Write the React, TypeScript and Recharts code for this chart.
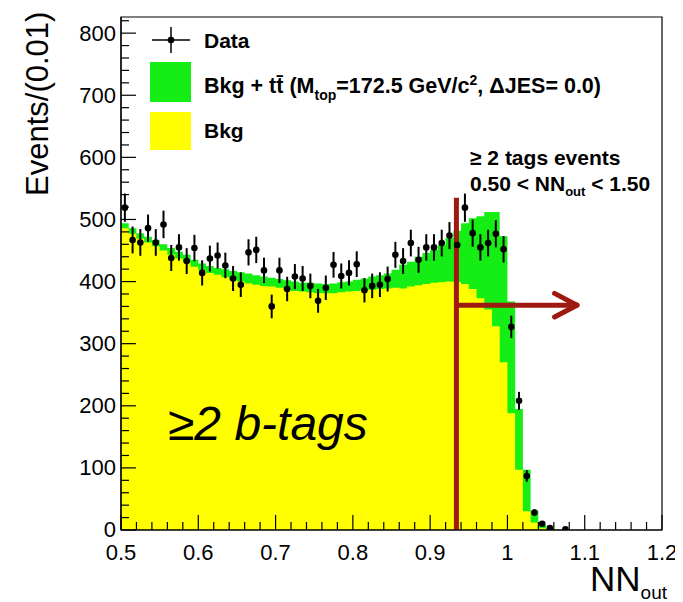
import React from 'react';
import {
  ComposedChart,
  Area,
  Scatter,
  ErrorBar,
  XAxis,
  YAxis,
  ReferenceLine,
  ReferenceArea,
} from 'recharts';

// ---------------- data ----------------
const BIN_START = 0.5;
const BIN_WIDTH = 0.01;
const NBINS = 70;

// Bkg + ttbar (stacked total) per bin, NN_out 0.50 .. 1.20
const totalCounts = [
  494, 486, 478, 472, 467, 460, 454, 448, 443, 435,
  429, 425, 422, 420, 417, 415, 413, 410, 408, 406,
  404, 402, 400, 398, 398, 397, 396, 397, 399, 400,
  403, 405, 408, 410, 413, 419, 427, 432, 440, 446,
  451, 459, 470, 482, 494, 502, 505, 512, 512, 473,
  368, 195, 97, 31, 8, 3, 1, 0, 0, 0,
  0, 0, 0, 0, 0, 0, 0, 0, 0, 0,
];

// Bkg only per bin
const bkgCounts = [
  486, 477, 469, 463, 457, 450, 443, 437, 431, 424,
  418, 414, 411, 407, 403, 400, 397, 395, 393, 392,
  390, 387, 385, 384, 383, 381, 381, 381, 383, 384,
  385, 386, 387, 388, 389, 390, 389, 392, 394, 396,
  398, 399, 400, 399, 396, 388, 373, 355, 328, 270,
  188, 97, 30, 12, 3, 1, 0, 0, 0, 0,
  0, 0, 0, 0, 0, 0, 0, 0, 0, 0,
];

// Observed data per bin
const dataCounts = [
  519, 467, 463, 486, 463, 492, 438, 455, 433, 454,
  414, 437, 442, 426, 405, 395, 447, 451, 418, 360,
  418, 388, 408, 405, 393, 369, 390, 427, 409, 414,
  428, 386, 393, 395, 404, 443, 433, 462, 435, 455,
  455, 462, 474, 459, 519, 478, 455, 462, 477, 452,
  327, 208, 87, 28, 10, 3, 0, 1, 0, 0,
  0, 0, 0, 0, 0, 0, 0, 0, 0, 0,
];

// Statistical error on data per bin
const dataErrors = [
  22.8, 21.6, 21.5, 22.0, 21.5, 22.2, 20.9, 21.3, 20.8, 21.3,
  20.3, 20.9, 21.0, 20.6, 20.1, 19.9, 21.1, 21.2, 20.4, 19.0,
  20.4, 19.7, 20.2, 20.1, 19.8, 19.2, 19.7, 20.7, 20.2, 20.3,
  20.7, 19.6, 19.8, 19.9, 20.1, 21.0, 20.8, 21.5, 20.9, 21.3,
  21.3, 21.5, 21.8, 21.4, 22.8, 21.9, 21.3, 21.5, 21.8, 21.3,
  18.1, 14.4, 9.3, 5.3, 3.2, 1.7, 0, 1.0, 0, 0,
  0, 0, 0, 0, 0, 0, 0, 0, 0, 0,
];

const xTicks = [
  0.5, 0.52, 0.54, 0.56, 0.58, 0.6, 0.62, 0.64, 0.66, 0.68,
  0.7, 0.72, 0.74, 0.76, 0.78, 0.8, 0.82, 0.84, 0.86, 0.88,
  0.9, 0.92, 0.94, 0.96, 0.98, 1.0, 1.02, 1.04, 1.06, 1.08,
  1.1, 1.12, 1.14, 1.16, 1.18, 1.2,
];
const yTicks = [
  0, 20, 40, 60, 80, 100, 120, 140, 160, 180,
  200, 220, 240, 260, 280, 300, 320, 340, 360, 380,
  400, 420, 440, 460, 480, 500, 520, 540, 560, 580,
  600, 620, 640, 660, 680, 700, 720, 740, 760, 780,
  800, 820,
];

const X_DOMAIN: [number, number] = [0.5, 1.2];
const Y_DOMAIN: [number, number] = [0, 826];

// cut annotation
const CUT_X = 0.934;
const CUT_TOP = 535;
const ARROW_Y = 362;
const ARROW_END = 1.09;
const ARROW_BACK = 0.029;
const ARROW_SPREAD = 19;

// ---------------- derived tables ----------------
const round3 = (v: number) => Math.round(v * 1000) / 1000;

const histRows = Array.from({ length: NBINS + 1 }, (_, i) => ({
  x: round3(BIN_START + i * BIN_WIDTH),
  total: i < NBINS ? totalCounts[i] : 0,
  bkg: i < NBINS ? bkgCounts[i] : 0,
}));

const pointRows = dataCounts
  .map((v, i) => ({ x: round3(BIN_START + (i + 0.5) * BIN_WIDTH), y: v, err: dataErrors[i] }))
  .filter((r) => r.y > 0);

// ---------------- styling ----------------
const GREEN = '#14ee14';
const YELLOW = '#ffff00';
const RED = '#9e1a10';
const FONT = '"Liberation Sans", Arial, Helvetica, sans-serif';

const TICK_MARGIN = 6;
const isMajorX = (v: number) => Math.abs(v * 10 - Math.round(v * 10)) < 1e-6;
const isMajorY = (v: number) => v % 100 === 0;

const XTick = (props: any) => {
  const { x, y, payload } = props;
  const v = payload.value as number;
  const major = isMajorX(v);
  const axisY = y - TICK_MARGIN;
  const len = major ? 15 : 8;
  return (
    <g>
      <line x1={x} x2={x} y1={axisY} y2={axisY - len} stroke="#000" strokeWidth={1.2} />
      {major && (
        <text x={x} y={axisY + 30} textAnchor="middle" fontFamily={FONT} fontSize={22} fill="#000">
          {String(Math.round(v * 10) / 10)}
        </text>
      )}
    </g>
  );
};

const YTick = (props: any) => {
  const { x, y, payload } = props;
  const v = payload.value as number;
  const major = isMajorY(v);
  const axisX = x + TICK_MARGIN;
  const len = major ? 15 : 8;
  return (
    <g>
      <line x1={axisX} x2={axisX + len} y1={y} y2={y} stroke="#000" strokeWidth={1.2} />
      {major && (
        <text x={axisX - 5} y={y} dy="0.34em" textAnchor="end" fontFamily={FONT} fontSize={22} fill="#000">
          {String(v)}
        </text>
      )}
    </g>
  );
};

const Dot = (p: any) => <circle cx={p.cx} cy={p.cy} r={3.3} fill="#000" />;

export default function App() {
  const W = 675;
  const H = 594;
  return (
    <div style={{ position: 'relative', width: W, height: H }}>
      <ComposedChart
        width={W}
        height={H}
        data={histRows}
        margin={{ top: 9, right: 21, left: 0, bottom: 0 }}
      >
        <Area
          type="stepAfter"
          dataKey="total"
          fill={GREEN}
          fillOpacity={1}
          stroke="none"
          isAnimationActive={false}
          dot={false}
          activeDot={false}
        />
        <Area
          type="stepAfter"
          dataKey="bkg"
          fill={YELLOW}
          fillOpacity={1}
          stroke="none"
          isAnimationActive={false}
          dot={false}
          activeDot={false}
        />
        <Scatter data={pointRows} dataKey="y" shape={Dot} isAnimationActive={false}>
          <ErrorBar dataKey="err" direction="y" width={0} stroke="#000" strokeWidth={2} isAnimationActive={false} />
        </Scatter>
        <ReferenceLine
          segment={[{ x: CUT_X, y: 0 }, { x: CUT_X, y: CUT_TOP }]}
          stroke={RED}
          strokeWidth={5}
        />
        <ReferenceLine
          segment={[{ x: CUT_X, y: ARROW_Y }, { x: ARROW_END, y: ARROW_Y }]}
          stroke={RED}
          strokeWidth={5}
        />
        <ReferenceLine
          segment={[{ x: ARROW_END - ARROW_BACK, y: ARROW_Y + ARROW_SPREAD }, { x: ARROW_END, y: ARROW_Y }]}
          stroke={RED}
          strokeWidth={5}
          strokeLinecap="round"
        />
        <ReferenceLine
          segment={[{ x: ARROW_END - ARROW_BACK, y: ARROW_Y - ARROW_SPREAD }, { x: ARROW_END, y: ARROW_Y }]}
          stroke={RED}
          strokeWidth={5}
          strokeLinecap="round"
        />
        <ReferenceArea
          x1={X_DOMAIN[0]}
          x2={X_DOMAIN[1]}
          y1={Y_DOMAIN[0]}
          y2={Y_DOMAIN[1]}
          fill="none"
          fillOpacity={0}
          stroke="#000"
          strokeWidth={1.2}
        />
        <XAxis
          type="number"
          dataKey="x"
          domain={X_DOMAIN}
          ticks={xTicks}
          interval={0}
          allowDataOverflow
          height={72}
          tickLine={false}
          tickSize={0}
          tickMargin={TICK_MARGIN}
          axisLine={{ stroke: '#000', strokeWidth: 1.2 }}
          tick={<XTick />}
        />
        <YAxis
          type="number"
          domain={Y_DOMAIN}
          ticks={yTicks}
          interval={0}
          allowDataOverflow
          width={113}
          tickLine={false}
          tickSize={0}
          tickMargin={TICK_MARGIN}
          axisLine={{ stroke: '#000', strokeWidth: 1.2 }}
          tick={<YTick />}
        />
      </ComposedChart>

      <svg
        width={W}
        height={H}
        style={{ position: 'absolute', left: 0, top: 0, pointerEvents: 'none', overflow: 'visible' }}
      >
        <g transform="translate(-8,-8)" fontFamily={FONT} fill="#000">
          {/* y axis title */}
          <text transform="translate(48,196) rotate(-90)" fontSize={31} textAnchor="start">
            Events/(0.01)
          </text>

          {/* x axis title */}
          <text x={590} y={591} fontSize={35}>
            NN
            <tspan fontSize={19} dy={8}>out</tspan>
          </text>

          {/* legend */}
          <line x1={152} x2={190} y1={40} y2={40} stroke="#000" strokeWidth={1.5} />
          <line x1={171} x2={171} y1={27} y2={53} stroke="#000" strokeWidth={1.5} />
          <circle cx={171} cy={40} r={3.3} fill="#000" />
          <text x={204} y={48} fontSize={21} fontWeight="bold">Data</text>

          <rect x={150} y={62} width={41} height={40} fill={GREEN} />
          <text x={204} y={93} fontSize={21.5} fontWeight="bold">
            Bkg + t{'t\u0304'} (M
            <tspan fontSize={14} dy={7}>top</tspan>
            <tspan dy={-7}>=172.5 GeV/c</tspan>
            <tspan fontSize={14} dy={-8}>2</tspan>
            <tspan dy={8}>, {'\u0394'}JES= 0.0)</tspan>
          </text>

          <rect x={150} y={112} width={41} height={38} fill={YELLOW} />
          <text x={204} y={138} fontSize={21} fontWeight="bold">Bkg</text>

          {/* category text */}
          <text x={470} y={165} fontSize={21} fontWeight="bold">{'\u2265'} 2 tags events</text>
          <text x={470} y={191} fontSize={21} fontWeight="bold">
            0.50 &lt; NN
            <tspan fontSize={13} dy={5}>out</tspan>
            <tspan dy={-5}> &lt; 1.50</tspan>
          </text>

          <text x={168} y={440} fontSize={48} fontStyle="italic">
            {'\u2265'}2 b-tags
          </text>
        </g>
      </svg>
    </div>
  );
}
